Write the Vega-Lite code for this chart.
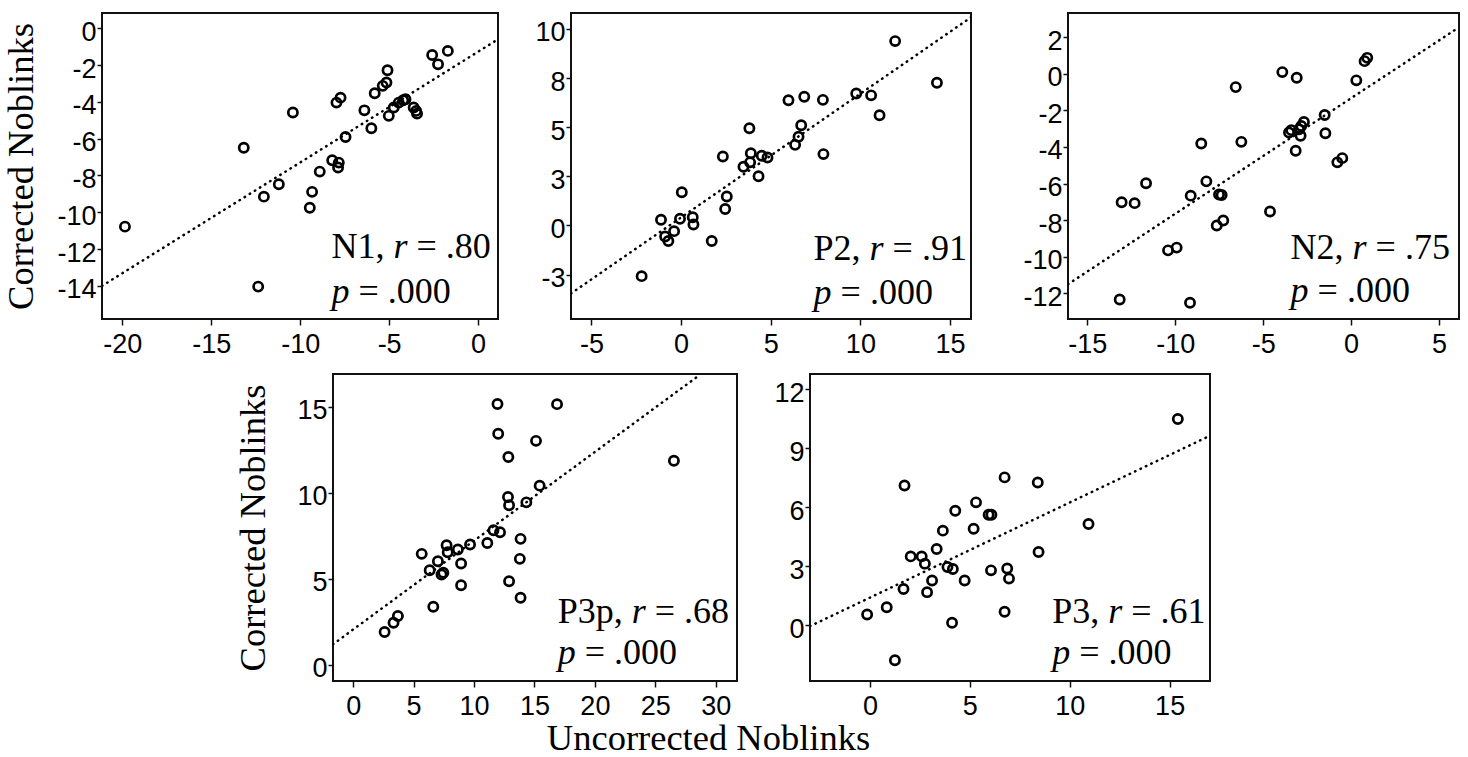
{
  "$schema": "https://vega.github.io/schema/vega-lite/v6.json",
  "background": "white",
  "padding": {"left": 1, "top": 12, "right": 4, "bottom": 0},
  "datasets": {
    "pts": [
      {"panel":"N1","x":-19.85,"y":-10.78},{"panel":"N1","x":-13.17,"y":-6.49},{"panel":"N1","x":-12.36,"y":-14.04},{"panel":"N1","x":-12.04,"y":-9.15},{"panel":"N1","x":-11.2,"y":-8.48},{"panel":"N1","x":-10.41,"y":-4.58},{"panel":"N1","x":-9.33,"y":-8.89},{"panel":"N1","x":-9.46,"y":-9.75},{"panel":"N1","x":-8.9,"y":-7.79},{"panel":"N1","x":-8.2,"y":-7.17},{"panel":"N1","x":-7.83,"y":-7.3},{"panel":"N1","x":-7.87,"y":-7.57},{"panel":"N1","x":-7.96,"y":-4.04},{"panel":"N1","x":-7.73,"y":-3.77},{"panel":"N1","x":-7.45,"y":-5.91},{"panel":"N1","x":-6.39,"y":-4.46},{"panel":"N1","x":-6.0,"y":-5.43},{"panel":"N1","x":-5.81,"y":-3.53},{"panel":"N1","x":-5.36,"y":-3.13},{"panel":"N1","x":-5.15,"y":-2.95},{"panel":"N1","x":-5.09,"y":-2.28},{"panel":"N1","x":-5.02,"y":-4.76},{"panel":"N1","x":-4.74,"y":-4.31},{"panel":"N1","x":-4.46,"y":-4.04},{"panel":"N1","x":-4.21,"y":-3.91},{"panel":"N1","x":-4.08,"y":-3.86},{"panel":"N1","x":-3.62,"y":-4.31},{"panel":"N1","x":-3.48,"y":-4.49},{"panel":"N1","x":-3.43,"y":-4.64},{"panel":"N1","x":-2.58,"y":-1.45},{"panel":"N1","x":-2.25,"y":-1.96},{"panel":"N1","x":-1.7,"y":-1.23},
      {"panel":"P2","x":-2.2,"y":-2.58},{"panel":"P2","x":-1.12,"y":0.29},{"panel":"P2","x":-0.89,"y":-0.56},{"panel":"P2","x":-0.71,"y":-0.79},{"panel":"P2","x":-0.39,"y":-0.29},{"panel":"P2","x":-0.06,"y":0.34},{"panel":"P2","x":0.04,"y":1.69},{"panel":"P2","x":0.65,"y":0.42},{"panel":"P2","x":0.69,"y":0.05},{"panel":"P2","x":1.71,"y":-0.79},{"panel":"P2","x":2.33,"y":3.51},{"panel":"P2","x":2.55,"y":1.47},{"panel":"P2","x":2.46,"y":0.84},{"panel":"P2","x":3.48,"y":2.99},{"panel":"P2","x":3.81,"y":4.95},{"panel":"P2","x":3.89,"y":3.67},{"panel":"P2","x":3.85,"y":3.21},{"panel":"P2","x":4.32,"y":2.5},{"panel":"P2","x":4.5,"y":3.55},{"panel":"P2","x":4.82,"y":3.46},{"panel":"P2","x":5.99,"y":6.37},{"panel":"P2","x":6.36,"y":4.1},{"panel":"P2","x":6.55,"y":4.51},{"panel":"P2","x":6.7,"y":5.1},{"panel":"P2","x":6.87,"y":6.55},{"panel":"P2","x":7.91,"y":6.39},{"panel":"P2","x":7.94,"y":3.63},{"panel":"P2","x":9.77,"y":6.71},{"panel":"P2","x":10.6,"y":6.62},{"panel":"P2","x":11.07,"y":5.61},{"panel":"P2","x":11.94,"y":9.38},{"panel":"P2","x":14.27,"y":7.26},
      {"panel":"N2","x":-13.05,"y":-7.02},{"panel":"N2","x":-12.31,"y":-7.07},{"panel":"N2","x":-11.66,"y":-5.98},{"panel":"N2","x":-13.16,"y":-12.33},{"panel":"N2","x":-10.41,"y":-9.65},{"panel":"N2","x":-9.92,"y":-9.5},{"panel":"N2","x":-9.16,"y":-12.51},{"panel":"N2","x":-9.12,"y":-6.66},{"panel":"N2","x":-8.52,"y":-3.81},{"panel":"N2","x":-8.23,"y":-5.88},{"panel":"N2","x":-7.64,"y":-8.29},{"panel":"N2","x":-7.27,"y":-8.02},{"panel":"N2","x":-7.51,"y":-6.6},{"panel":"N2","x":-7.36,"y":-6.62},{"panel":"N2","x":-6.56,"y":-0.73},{"panel":"N2","x":-6.24,"y":-3.72},{"panel":"N2","x":-4.61,"y":-7.53},{"panel":"N2","x":-3.91,"y":0.09},{"panel":"N2","x":-3.53,"y":-3.21},{"panel":"N2","x":-3.4,"y":-3.08},{"panel":"N2","x":-3.09,"y":-0.22},{"panel":"N2","x":-3.15,"y":-4.21},{"panel":"N2","x":-2.87,"y":-3.39},{"panel":"N2","x":-2.96,"y":-3.03},{"panel":"N2","x":-2.83,"y":-2.85},{"panel":"N2","x":-2.68,"y":-2.63},{"panel":"N2","x":-1.5,"y":-2.25},{"panel":"N2","x":-1.46,"y":-3.25},{"panel":"N2","x":-0.78,"y":-4.84},{"panel":"N2","x":-0.5,"y":-4.61},{"panel":"N2","x":0.3,"y":-0.36},{"panel":"N2","x":0.77,"y":0.69},{"panel":"N2","x":0.92,"y":0.87},
      {"panel":"P3p","x":2.6,"y":1.91},{"panel":"P3p","x":3.34,"y":2.45},{"panel":"P3p","x":3.7,"y":2.84},{"panel":"P3p","x":5.67,"y":6.45},{"panel":"P3p","x":6.33,"y":5.5},{"panel":"P3p","x":6.63,"y":3.38},{"panel":"P3p","x":7.01,"y":6.02},{"panel":"P3p","x":7.31,"y":5.25},{"panel":"P3p","x":7.46,"y":5.35},{"panel":"P3p","x":7.73,"y":6.95},{"panel":"P3p","x":7.82,"y":6.54},{"panel":"P3p","x":8.66,"y":6.7},{"panel":"P3p","x":8.93,"y":5.89},{"panel":"P3p","x":8.93,"y":4.63},{"panel":"P3p","x":9.67,"y":6.99},{"panel":"P3p","x":11.1,"y":7.08},{"panel":"P3p","x":11.61,"y":7.82},{"panel":"P3p","x":12.15,"y":7.7},{"panel":"P3p","x":11.94,"y":15.15},{"panel":"P3p","x":12.0,"y":13.42},{"panel":"P3p","x":12.84,"y":12.07},{"panel":"P3p","x":12.81,"y":9.75},{"panel":"P3p","x":12.9,"y":9.27},{"panel":"P3p","x":12.9,"y":4.86},{"panel":"P3p","x":13.85,"y":7.32},{"panel":"P3p","x":13.79,"y":6.16},{"panel":"P3p","x":13.85,"y":3.9},{"panel":"P3p","x":14.33,"y":9.44},{"panel":"P3p","x":15.13,"y":13.01},{"panel":"P3p","x":15.43,"y":10.41},{"panel":"P3p","x":16.87,"y":15.14},{"panel":"P3p","x":26.54,"y":11.85},
      {"panel":"P3","x":-0.14,"y":0.54},{"panel":"P3","x":0.84,"y":0.91},{"panel":"P3","x":1.25,"y":-1.78},{"panel":"P3","x":1.68,"y":1.84},{"panel":"P3","x":1.73,"y":7.11},{"panel":"P3","x":2.04,"y":3.5},{"panel":"P3","x":2.59,"y":3.5},{"panel":"P3","x":2.75,"y":3.13},{"panel":"P3","x":2.86,"y":1.68},{"panel":"P3","x":3.11,"y":2.27},{"panel":"P3","x":3.34,"y":3.88},{"panel":"P3","x":3.65,"y":4.81},{"panel":"P3","x":3.88,"y":2.96},{"panel":"P3","x":4.15,"y":2.86},{"panel":"P3","x":4.11,"y":0.12},{"panel":"P3","x":4.27,"y":5.82},{"panel":"P3","x":4.74,"y":2.27},{"panel":"P3","x":5.19,"y":4.91},{"panel":"P3","x":5.31,"y":6.25},{"panel":"P3","x":5.94,"y":5.62},{"panel":"P3","x":6.08,"y":5.62},{"panel":"P3","x":6.06,"y":2.79},{"panel":"P3","x":6.74,"y":7.52},{"panel":"P3","x":6.74,"y":0.68},{"panel":"P3","x":6.87,"y":2.88},{"panel":"P3","x":6.96,"y":2.37},{"panel":"P3","x":8.4,"y":7.26},{"panel":"P3","x":8.44,"y":3.72},{"panel":"P3","x":10.94,"y":5.15},{"panel":"P3","x":15.41,"y":10.49}
    ],
    "fits": [
      {"panel":"N1","x":-21.14,"y":-14.0},{"panel":"N1","x":1.12,"y":-0.6},
      {"panel":"P2","x":-6.14,"y":-3.46},{"panel":"P2","x":16.17,"y":10.59},
      {"panel":"N2","x":-16.1,"y":-11.5},{"panel":"N2","x":6.14,"y":2.54},
      {"panel":"P3p","x":-1.67,"y":1.2},{"panel":"P3p","x":28.7,"y":16.85},
      {"panel":"P3","x":-3.0,"y":-0.05},{"panel":"P3","x":17.02,"y":9.64}
    ],
    "notes": [
      {"panel":"N1","line":1,"x":-8.24,"y":-12.5,"t":"N1,","u":"= .80"},
      {"panel":"N1","line":2,"x":-8.24,"y":-14.91,"t":"","u":"= .000"},
      {"panel":"P2","line":1,"x":7.39,"y":-1.77,"t":"P2,","u":"= .91"},
      {"panel":"P2","line":2,"x":7.39,"y":-4.0,"t":"","u":"= .000"},
      {"panel":"N2","line":1,"x":-3.44,"y":-10.1,"t":"N2,","u":"= .75"},
      {"panel":"N2","line":2,"x":-3.44,"y":-12.46,"t":"","u":"= .000"},
      {"panel":"P3p","line":1,"x":16.93,"y":2.45,"t":"P3p,","u":"= .68"},
      {"panel":"P3p","line":2,"x":16.93,"y":0.04,"t":"","u":"= .000"},
      {"panel":"P3","line":1,"x":9.12,"y":0.12,"t":"P3,","u":"= .61"},
      {"panel":"P3","line":2,"x":9.12,"y":-2.0,"t":"","u":"= .000"}
    ]
  },
  "config": {
    "view": {"stroke": "#111111", "strokeWidth": 2},
    "axis": {
      "domain": false, "grid": false, "tickColor": "#111111", "tickWidth": 1.5,
      "labelFont": "Liberation Sans", "labelFontSize": 27, "labelColor": "#000000", "labelOverlap": false,
      "titleFont": "Liberation Serif", "titleFontSize": 36.5, "titleFontWeight": "normal", "titleColor": "#000000"
    },
    "axisY": {"tickSize": 5, "labelPadding": 1, "labelOffset": 4},
    "axisX": {"tickSize": 6, "labelPadding": 6}
  },
  "spacing": 15,
  "vconcat": [
    {
      "spacing": 10,
      "hconcat": [
        {
          "width": 396, "height": 306,
          "encoding": {
            "x": {"field": "x", "type": "quantitative", "scale": {"domain": [-21.14, 1.12], "nice": false, "zero": false},
                  "axis": {"values": [-20, -15, -10, -5, 0], "title": null, "labelExpr": "datum.value < 0 ? '-' + round(-datum.value) : '' + round(datum.value)"}},
            "y": {"field": "y", "type": "quantitative", "scale": {"domain": [-15.8, 0.83], "nice": false, "zero": false},
                  "axis": {"values": [-14, -12, -10, -8, -6, -4, -2, 0], "title": "Corrected Noblinks", "titlePadding": 17, "minExtent": 45, "maxExtent": 45, "labelExpr": "datum.value < 0 ? '-' + round(-datum.value) : '' + round(datum.value)"}}
          },
          "layer": [
            {"data": {"name": "fits"}, "transform": [{"filter": "datum.panel == 'N1'"}], "mark": {"type": "line", "color": "#000000", "strokeWidth": 2.5, "strokeDash": [0.5, 5.5], "strokeCap": "round", "clip": true}},
            {"data": {"name": "pts"}, "transform": [{"filter": "datum.panel == 'N1'"}], "mark": {"type": "point", "shape": "circle", "filled": false, "color": "#000000", "strokeWidth": 2.7, "size": 85, "opacity": 1}},
            {"data": {"name": "notes"}, "transform": [{"filter": "datum.panel == 'N1'"}], "layer": [
              {"transform": [{"filter": "datum.line == 1"}], "mark": {"type": "text", "font": "Liberation Serif", "fontSize": 36, "align": "left", "baseline": "alphabetic", "color": "#000000"}, "encoding": {"text": {"field": "t", "type": "nominal"}}},
              {"transform": [{"filter": "datum.line == 1"}], "mark": {"type": "text", "font": "Liberation Serif", "fontSize": 36, "fontStyle": "italic", "align": "left", "baseline": "alphabetic", "color": "#000000", "text": "r", "dx": 62}},
              {"transform": [{"filter": "datum.line == 1"}], "mark": {"type": "text", "font": "Liberation Serif", "fontSize": 36, "align": "left", "baseline": "alphabetic", "color": "#000000", "dx": 85}, "encoding": {"text": {"field": "u", "type": "nominal"}}},
              {"transform": [{"filter": "datum.line == 2"}], "mark": {"type": "text", "font": "Liberation Serif", "fontSize": 36, "fontStyle": "italic", "align": "left", "baseline": "alphabetic", "color": "#000000", "text": "p"}},
              {"transform": [{"filter": "datum.line == 2"}], "mark": {"type": "text", "font": "Liberation Serif", "fontSize": 36, "align": "left", "baseline": "alphabetic", "color": "#000000", "dx": 27}, "encoding": {"text": {"field": "u", "type": "nominal"}}}
            ]}
          ]
        },
        {
          "width": 400, "height": 306,
          "encoding": {
            "x": {"field": "x", "type": "quantitative", "scale": {"domain": [-6.14, 16.17], "nice": false, "zero": false},
                  "axis": {"values": [-5, 0, 5, 10, 15], "title": null, "labelExpr": "datum.value < 0 ? '-' + round(-datum.value) : '' + round(datum.value)"}},
            "y": {"field": "y", "type": "quantitative", "scale": {"domain": [-4.76, 10.81], "nice": false, "zero": false},
                  "axis": {"values": [-2.5, 0, 2.5, 5, 7.5, 10], "title": "\u00a0", "titleFontSize": 1, "titlePadding": 24, "minExtent": 36, "maxExtent": 36, "labelExpr": "datum.value < 0 ? '-' + round(-datum.value) : '' + round(datum.value)"}}
          },
          "layer": [
            {"data": {"name": "fits"}, "transform": [{"filter": "datum.panel == 'P2'"}], "mark": {"type": "line", "color": "#000000", "strokeWidth": 2.5, "strokeDash": [0.5, 5.5], "strokeCap": "round", "clip": true}},
            {"data": {"name": "pts"}, "transform": [{"filter": "datum.panel == 'P2'"}], "mark": {"type": "point", "shape": "circle", "filled": false, "color": "#000000", "strokeWidth": 2.7, "size": 85, "opacity": 1}},
            {"data": {"name": "notes"}, "transform": [{"filter": "datum.panel == 'P2'"}], "layer": [
              {"transform": [{"filter": "datum.line == 1"}], "mark": {"type": "text", "font": "Liberation Serif", "fontSize": 36, "align": "left", "baseline": "alphabetic", "color": "#000000"}, "encoding": {"text": {"field": "t", "type": "nominal"}}},
              {"transform": [{"filter": "datum.line == 1"}], "mark": {"type": "text", "font": "Liberation Serif", "fontSize": 36, "fontStyle": "italic", "align": "left", "baseline": "alphabetic", "color": "#000000", "text": "r", "dx": 56}},
              {"transform": [{"filter": "datum.line == 1"}], "mark": {"type": "text", "font": "Liberation Serif", "fontSize": 36, "align": "left", "baseline": "alphabetic", "color": "#000000", "dx": 79}, "encoding": {"text": {"field": "u", "type": "nominal"}}},
              {"transform": [{"filter": "datum.line == 2"}], "mark": {"type": "text", "font": "Liberation Serif", "fontSize": 36, "fontStyle": "italic", "align": "left", "baseline": "alphabetic", "color": "#000000", "text": "p"}},
              {"transform": [{"filter": "datum.line == 2"}], "mark": {"type": "text", "font": "Liberation Serif", "fontSize": 36, "align": "left", "baseline": "alphabetic", "color": "#000000", "dx": 27}, "encoding": {"text": {"field": "u", "type": "nominal"}}}
            ]}
          ]
        },
        {
          "width": 391, "height": 306,
          "encoding": {
            "x": {"field": "x", "type": "quantitative", "scale": {"domain": [-16.1, 6.14], "nice": false, "zero": false},
                  "axis": {"values": [-15, -10, -5, 0, 5], "title": null, "labelExpr": "datum.value < 0 ? '-' + round(-datum.value) : '' + round(datum.value)"}},
            "y": {"field": "y", "type": "quantitative", "scale": {"domain": [-13.4, 3.32], "nice": false, "zero": false},
                  "axis": {"values": [-12, -10, -8, -6, -4, -2, 0, 2], "title": "\u00a0", "titleFontSize": 1, "titlePadding": 39, "minExtent": 45, "maxExtent": 45, "labelExpr": "datum.value < 0 ? '-' + round(-datum.value) : '' + round(datum.value)"}}
          },
          "layer": [
            {"data": {"name": "fits"}, "transform": [{"filter": "datum.panel == 'N2'"}], "mark": {"type": "line", "color": "#000000", "strokeWidth": 2.5, "strokeDash": [0.5, 5.5], "strokeCap": "round", "clip": true}},
            {"data": {"name": "pts"}, "transform": [{"filter": "datum.panel == 'N2'"}], "mark": {"type": "point", "shape": "circle", "filled": false, "color": "#000000", "strokeWidth": 2.7, "size": 85, "opacity": 1}},
            {"data": {"name": "notes"}, "transform": [{"filter": "datum.panel == 'N2'"}], "layer": [
              {"transform": [{"filter": "datum.line == 1"}], "mark": {"type": "text", "font": "Liberation Serif", "fontSize": 36, "align": "left", "baseline": "alphabetic", "color": "#000000"}, "encoding": {"text": {"field": "t", "type": "nominal"}}},
              {"transform": [{"filter": "datum.line == 1"}], "mark": {"type": "text", "font": "Liberation Serif", "fontSize": 36, "fontStyle": "italic", "align": "left", "baseline": "alphabetic", "color": "#000000", "text": "r", "dx": 62}},
              {"transform": [{"filter": "datum.line == 1"}], "mark": {"type": "text", "font": "Liberation Serif", "fontSize": 36, "align": "left", "baseline": "alphabetic", "color": "#000000", "dx": 85}, "encoding": {"text": {"field": "u", "type": "nominal"}}},
              {"transform": [{"filter": "datum.line == 2"}], "mark": {"type": "text", "font": "Liberation Serif", "fontSize": 36, "fontStyle": "italic", "align": "left", "baseline": "alphabetic", "color": "#000000", "text": "p"}},
              {"transform": [{"filter": "datum.line == 2"}], "mark": {"type": "text", "font": "Liberation Serif", "fontSize": 36, "align": "left", "baseline": "alphabetic", "color": "#000000", "dx": 27}, "encoding": {"text": {"field": "u", "type": "nominal"}}}
            ]}
          ]
        }
      ]
    },
    {
      "spacing": 10,
      "title": {"text": "Uncorrected Noblinks", "orient": "bottom", "anchor": "middle", "font": "Liberation Serif", "fontSize": 36.5, "fontWeight": "normal", "color": "#000000", "offset": 1, "dx": 52},
      "hconcat": [
        {
          "width": 121, "height": 307,
          "view": {"stroke": null, "fill": null},
          "data": {"values": []},
          "mark": {"type": "point", "opacity": 0}
        },
        {
          "width": 404, "height": 307,
          "encoding": {
            "x": {"field": "x", "type": "quantitative", "scale": {"domain": [-1.67, 31.76], "nice": false, "zero": false},
                  "axis": {"values": [0, 5, 10, 15, 20, 25, 30], "title": null, "labelExpr": "datum.value < 0 ? '-' + round(-datum.value) : '' + round(datum.value)"}},
            "y": {"field": "y", "type": "quantitative", "scale": {"domain": [-0.93, 16.89], "nice": false, "zero": false},
                  "axis": {"values": [0, 5, 10, 15], "title": "Corrected Noblinks", "titlePadding": 16, "minExtent": 45, "maxExtent": 45, "labelExpr": "datum.value < 0 ? '-' + round(-datum.value) : '' + round(datum.value)"}}
          },
          "layer": [
            {"data": {"name": "fits"}, "transform": [{"filter": "datum.panel == 'P3p'"}], "mark": {"type": "line", "color": "#000000", "strokeWidth": 2.5, "strokeDash": [0.5, 5.5], "strokeCap": "round", "clip": true}},
            {"data": {"name": "pts"}, "transform": [{"filter": "datum.panel == 'P3p'"}], "mark": {"type": "point", "shape": "circle", "filled": false, "color": "#000000", "strokeWidth": 2.7, "size": 85, "opacity": 1}},
            {"data": {"name": "notes"}, "transform": [{"filter": "datum.panel == 'P3p'"}], "layer": [
              {"transform": [{"filter": "datum.line == 1"}], "mark": {"type": "text", "font": "Liberation Serif", "fontSize": 36, "align": "left", "baseline": "alphabetic", "color": "#000000"}, "encoding": {"text": {"field": "t", "type": "nominal"}}},
              {"transform": [{"filter": "datum.line == 1"}], "mark": {"type": "text", "font": "Liberation Serif", "fontSize": 36, "fontStyle": "italic", "align": "left", "baseline": "alphabetic", "color": "#000000", "text": "r", "dx": 74}},
              {"transform": [{"filter": "datum.line == 1"}], "mark": {"type": "text", "font": "Liberation Serif", "fontSize": 36, "align": "left", "baseline": "alphabetic", "color": "#000000", "dx": 97}, "encoding": {"text": {"field": "u", "type": "nominal"}}},
              {"transform": [{"filter": "datum.line == 2"}], "mark": {"type": "text", "font": "Liberation Serif", "fontSize": 36, "fontStyle": "italic", "align": "left", "baseline": "alphabetic", "color": "#000000", "text": "p"}},
              {"transform": [{"filter": "datum.line == 2"}], "mark": {"type": "text", "font": "Liberation Serif", "fontSize": 36, "align": "left", "baseline": "alphabetic", "color": "#000000", "dx": 27}, "encoding": {"text": {"field": "u", "type": "nominal"}}}
            ]}
          ]
        },
        {
          "width": 400, "height": 307,
          "encoding": {
            "x": {"field": "x", "type": "quantitative", "scale": {"domain": [-3.0, 17.02], "nice": false, "zero": false},
                  "axis": {"values": [0, 5, 10, 15], "title": null, "labelExpr": "datum.value < 0 ? '-' + round(-datum.value) : '' + round(datum.value)"}},
            "y": {"field": "y", "type": "quantitative", "scale": {"domain": [-2.84, 12.78], "nice": false, "zero": false},
                  "axis": {"values": [0, 3, 6, 9, 12], "title": "\u00a0", "titleFontSize": 1, "titlePadding": 24, "minExtent": 36, "maxExtent": 36, "labelExpr": "datum.value < 0 ? '-' + round(-datum.value) : '' + round(datum.value)"}}
          },
          "layer": [
            {"data": {"name": "fits"}, "transform": [{"filter": "datum.panel == 'P3'"}], "mark": {"type": "line", "color": "#000000", "strokeWidth": 2.5, "strokeDash": [0.5, 5.5], "strokeCap": "round", "clip": true}},
            {"data": {"name": "pts"}, "transform": [{"filter": "datum.panel == 'P3'"}], "mark": {"type": "point", "shape": "circle", "filled": false, "color": "#000000", "strokeWidth": 2.7, "size": 85, "opacity": 1}},
            {"data": {"name": "notes"}, "transform": [{"filter": "datum.panel == 'P3'"}], "layer": [
              {"transform": [{"filter": "datum.line == 1"}], "mark": {"type": "text", "font": "Liberation Serif", "fontSize": 36, "align": "left", "baseline": "alphabetic", "color": "#000000"}, "encoding": {"text": {"field": "t", "type": "nominal"}}},
              {"transform": [{"filter": "datum.line == 1"}], "mark": {"type": "text", "font": "Liberation Serif", "fontSize": 36, "fontStyle": "italic", "align": "left", "baseline": "alphabetic", "color": "#000000", "text": "r", "dx": 56}},
              {"transform": [{"filter": "datum.line == 1"}], "mark": {"type": "text", "font": "Liberation Serif", "fontSize": 36, "align": "left", "baseline": "alphabetic", "color": "#000000", "dx": 79}, "encoding": {"text": {"field": "u", "type": "nominal"}}},
              {"transform": [{"filter": "datum.line == 2"}], "mark": {"type": "text", "font": "Liberation Serif", "fontSize": 36, "fontStyle": "italic", "align": "left", "baseline": "alphabetic", "color": "#000000", "text": "p"}},
              {"transform": [{"filter": "datum.line == 2"}], "mark": {"type": "text", "font": "Liberation Serif", "fontSize": 36, "align": "left", "baseline": "alphabetic", "color": "#000000", "dx": 27}, "encoding": {"text": {"field": "u", "type": "nominal"}}}
            ]}
          ]
        }
      ]
    }
  ]
}
